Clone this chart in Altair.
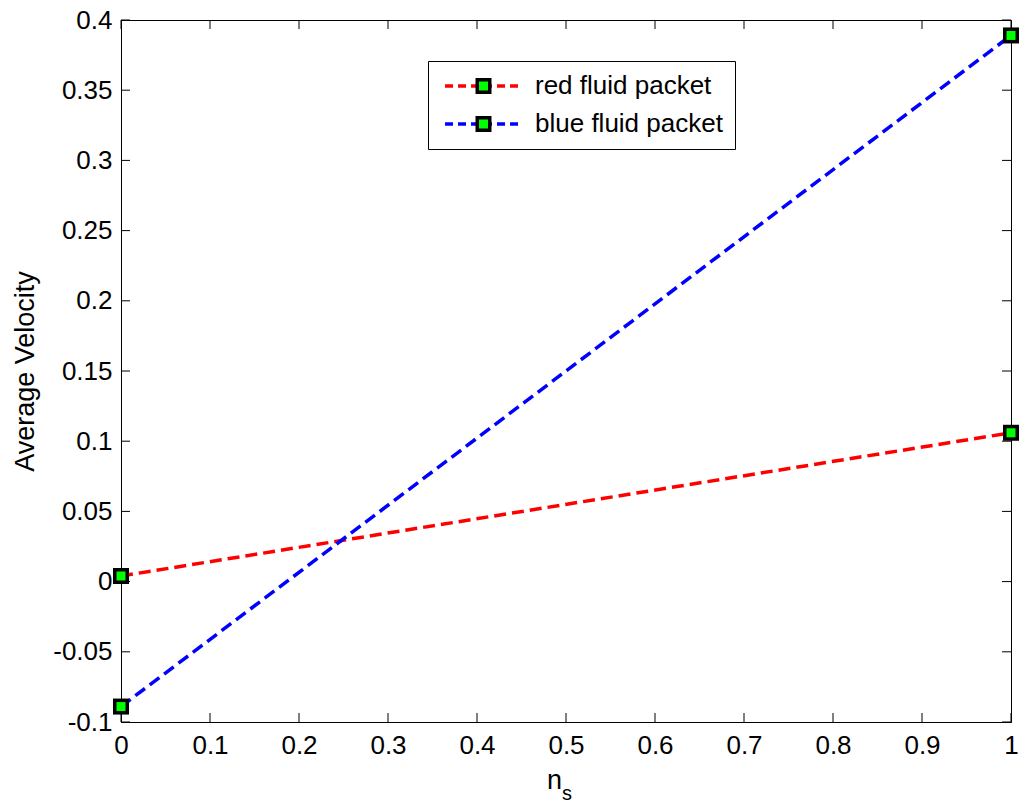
import altair as alt
import pandas as pd

# ---- data ----
ns_values = [0, 1]
red_values = [0.004, 0.106]
blue_values = [-0.089, 0.389]
series_names = ["red fluid packet", "blue fluid packet"]
series_colors = ["#ff0000", "#0000ff"]
x_ticks = [0, 0.1, 0.2, 0.3, 0.4, 0.5, 0.6, 0.7, 0.8, 0.9, 1]
y_ticks = [-0.1, -0.05, 0, 0.05, 0.1, 0.15, 0.2, 0.25, 0.3, 0.35, 0.4]

rows = []
for name, vals in zip(series_names, [red_values, blue_values]):
    for x, v in zip(ns_values, vals):
        rows.append({"ns": x, "v": v, "series": name,
                     "series_b": name, "series_g": name})
df = pd.DataFrame(rows)
xt = pd.DataFrame({"t": x_ticks})
yt = pd.DataFrame({"t": y_ticks})

W, H = 890, 702
FONT = "Liberation Sans"
LX, LY = 307, 41
SYM_OFF = 30.5

xscale = alt.Scale(domain=[0, 1], nice=False, zero=False)
yscale = alt.Scale(domain=[-0.1, 0.4], nice=False, zero=False)

x_axis = alt.Axis(
    values=x_ticks, format=".1~f", ticks=False, grid=False, labelFlush=False,
    labelOverlap=False, labelPadding=10, labelFontSize=26, labelFont=FONT,
    labelColor="black", domainColor="black", title="n", titleFont=FONT,
    titleFontSize=27, titleFontWeight="normal", titleColor="black",
    titleX=433, titleY=66, titleBaseline="alphabetic", titleAlign="center",
)
y_axis = alt.Axis(
    values=y_ticks, format=".2~f", ticks=False, grid=False, labelFlush=False,
    labelOverlap=False, labelPadding=9, labelFontSize=26, labelFont=FONT,
    labelColor="black", domainColor="black",
    labelExpr="replace(datum.label, '\u2212', '-')",
    title="Average Velocity", titleFont=FONT, titleFontSize=27,
    titleFontWeight="normal", titleColor="black", titleAngle=270,
    titleX=-88, titleY=351, titleBaseline="alphabetic", titleAlign="center",
)

base = alt.Chart(df)

lines = base.mark_line(strokeWidth=3.5, strokeDash=[12, 6]).encode(
    x=alt.X("ns:Q", scale=xscale, axis=x_axis),
    y=alt.Y("v:Q", scale=yscale, axis=y_axis),
    color=alt.Color(
        "series:N",
        scale=alt.Scale(domain=series_names, range=series_colors),
        legend=alt.Legend(
            title=None, orient="none", legendX=LX, legendY=LY, zindex=1,
            padding=12, rowPadding=12, labelOffset=38.5, symbolOffset=SYM_OFF,
            symbolType="M-5.13,0H5.13", symbolSize=225, symbolStrokeWidth=3.5,
            symbolDash=[8, 5], strokeColor="black", fillColor="white",
            cornerRadius=0, labelFontSize=26, labelFont=FONT, labelColor="black",
            labelLimit=500,
        ),
    ),
    detail="series:N",
)

# marker = black square with a green square on top
points_black = base.mark_point(
    shape="square", filled=True, fill="black", strokeWidth=0, size=256, opacity=1,
).encode(
    x=alt.X("ns:Q", scale=xscale),
    y=alt.Y("v:Q", scale=yscale),
    shape=alt.Shape(
        "series_b:N",
        sort=series_names,
        scale=alt.Scale(range=["square", "square"]),
        legend=alt.Legend(
            title=None, orient="none", legendX=LX, legendY=LY, zindex=2,
            padding=12, rowPadding=12, labelOffset=38.5, symbolOffset=SYM_OFF,
            symbolSize=256, symbolStrokeWidth=0, symbolFillColor="black",
            labelExpr="' '", labelOpacity=0, labelFontSize=26, labelFont=FONT,
        ),
    ),
)

points_green = base.mark_point(
    shape="square", filled=True, fill="#00ff00", strokeWidth=0, size=81,
).encode(
    x=alt.X("ns:Q", scale=xscale),
    y=alt.Y("v:Q", scale=yscale),
    opacity=alt.Opacity(
        "series_g:O",
        sort=series_names,
        scale=alt.Scale(range=[1, 1]),
        legend=alt.Legend(
            title=None, orient="none", legendX=LX, legendY=LY, zindex=3,
            padding=12, rowPadding=12, labelOffset=38.5, symbolOffset=SYM_OFF,
            symbolType="square", symbolSize=81, symbolStrokeWidth=0,
            symbolFillColor="#00ff00",
            labelExpr="' '", labelOpacity=0, labelFontSize=26, labelFont=FONT,
        ),
    ),
)

tick_len = 9
bottom_ticks = alt.Chart(xt).mark_rule(color="black", strokeWidth=1).encode(
    x=alt.X("t:Q", scale=xscale), y=alt.value(H), y2=alt.value(H - tick_len))
top_ticks = alt.Chart(xt).mark_rule(color="black", strokeWidth=1).encode(
    x=alt.X("t:Q", scale=xscale), y=alt.value(0), y2=alt.value(tick_len))
left_ticks = alt.Chart(yt).mark_rule(color="black", strokeWidth=1).encode(
    y=alt.Y("t:Q", scale=yscale), x=alt.value(0), x2=alt.value(tick_len))
right_ticks = alt.Chart(yt).mark_rule(color="black", strokeWidth=1).encode(
    y=alt.Y("t:Q", scale=yscale), x=alt.value(W), x2=alt.value(W - tick_len))

sub_s = alt.Chart(pd.DataFrame({"s": ["s"]})).mark_text(
    font=FONT, fontSize=20, baseline="alphabetic", align="center", color="black"
).encode(text="s:N", x=alt.value(446), y=alt.value(780))

chart = alt.layer(
    bottom_ticks, top_ticks, left_ticks, right_ticks, lines,
    points_black, points_green, sub_s
).properties(
    width=W, height=H,
    autosize=alt.AutoSizeParams(type="none"),
    padding={"left": 121, "top": 20, "right": 10, "bottom": 86},
    background="white",
).configure_view(stroke="black", strokeWidth=1).configure_axis(domainWidth=1)

chart.save("out.html", embed_options={"renderer": "svg", "actions": False})
